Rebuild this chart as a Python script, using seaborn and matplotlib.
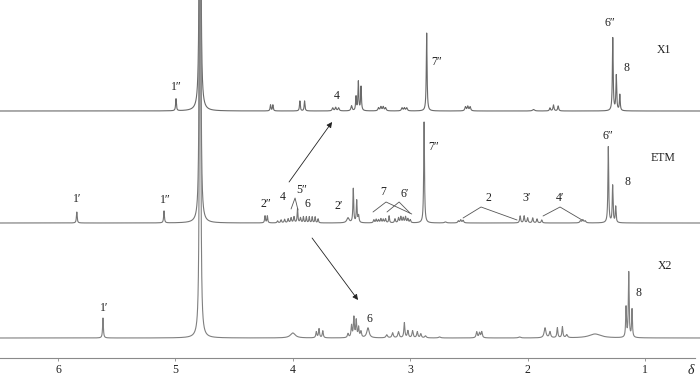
import numpy as np
import pandas as pd
import matplotlib
matplotlib.use("Agg")
import matplotlib.pyplot as plt
import seaborn as sns

# ---------------- data ----------------
# chemical shifts (ppm), peak heights (plot units), half widths (ppm)
x1_ppm = [4.995, 4.79, 4.19, 4.17, 3.94, 3.90, 3.66, 3.635, 3.61, 3.50, 3.462, 3.442, 3.419,
          3.27, 3.25, 3.23, 3.21, 3.07, 3.05, 3.03, 2.86, 2.53, 2.51, 2.49, 1.95,
          1.81, 1.78, 1.74, 1.275, 1.245, 1.215]
x1_height = [12, 1500, 6, 6, 10, 10, 3, 3.5, 3, 5, 14, 29, 24,
             3, 4, 4, 3, 3, 3, 3, 78, 4, 4.5, 4, 1.5,
             3, 6, 5, 73, 35, 16]
x1_width = [0.004, 0.003, 0.004, 0.004, 0.004, 0.004, 0.006, 0.006, 0.006, 0.006, 0.004, 0.004, 0.004,
            0.006, 0.006, 0.006, 0.006, 0.006, 0.006, 0.006, 0.004, 0.006, 0.006, 0.006, 0.01,
            0.005, 0.005, 0.005, 0.004, 0.004, 0.004]

etm_ppm = [5.84, 5.097, 4.79, 4.237, 4.217, 4.13, 4.10, 4.07, 4.04, 4.015, 3.99, 3.96, 3.935,
           3.91, 3.885, 3.86, 3.835, 3.81, 3.785, 3.53, 3.485, 3.456, 3.44,
           3.31, 3.29, 3.27, 3.25, 3.23, 3.21, 3.18, 3.13, 3.10, 3.08, 3.06, 3.04, 3.02, 3.00,
           2.882, 2.70, 2.59, 2.57, 2.55, 2.064, 2.03, 2.00, 1.957, 1.92, 1.88,
           1.55, 1.53, 1.51, 1.313, 1.276, 1.25]
etm_height = [11, 12, 1500, 7, 7, 2, 3, 3.5, 4, 5, 6, 14, 5,
              6, 6, 6, 6, 6, 4, 5, 34, 22, 7,
              3, 3.5, 3, 4, 3.5, 4, 7, 4, 5, 6, 5, 6, 4, 3,
              101, 1, 2, 3, 2.5, 7, 7, 5, 5, 4, 3,
              2, 3, 2, 76, 37, 16]
etm_width = [0.004, 0.004, 0.003, 0.004, 0.004, 0.005, 0.005, 0.005, 0.005, 0.005, 0.005, 0.004, 0.005,
             0.004, 0.004, 0.004, 0.004, 0.004, 0.004, 0.012, 0.004, 0.004, 0.005,
             0.005, 0.005, 0.005, 0.005, 0.005, 0.005, 0.004, 0.005, 0.005, 0.005, 0.005, 0.005, 0.005, 0.005,
             0.004, 0.01, 0.006, 0.006, 0.006, 0.005, 0.005, 0.005, 0.005, 0.005, 0.005,
             0.007, 0.007, 0.007, 0.004, 0.004, 0.004]

x2_ppm = [5.617, 4.79, 4.0, 3.80, 3.777, 3.745, 3.53, 3.50, 3.48, 3.46, 3.44, 3.42, 3.36,
          3.20, 3.15, 3.10, 3.05, 3.02, 2.98, 2.94, 2.91, 2.87, 2.75,
          2.434, 2.41, 2.391, 2.07, 1.852, 1.81, 1.747, 1.704, 1.667, 1.426,
          1.162, 1.139, 1.111]
x2_height = [20, 1500, 5, 6, 9, 7, 4, 12, 20, 17, 10, 6, 10,
             3, 5, 6, 15, 7, 7, 6, 4, 2, 1,
             6, 5, 6, 1, 10, 6, 10, 11, 3, 4,
             30, 65, 28]
x2_width = [0.004, 0.003, 0.025, 0.005, 0.005, 0.005, 0.006, 0.005, 0.005, 0.005, 0.005, 0.006, 0.012,
            0.008, 0.007, 0.007, 0.005, 0.006, 0.006, 0.006, 0.006, 0.008, 0.01,
            0.006, 0.006, 0.006, 0.01, 0.009, 0.007, 0.005, 0.005, 0.008, 0.06,
            0.004, 0.004, 0.004]

spectra = ["X1", "ETM", "X2"]
baselines = {"X1": 247, "ETM": 135, "X2": 20}

# peak labels: (text, ppm, y)
x1_labels = [("1″", 4.995, 271), ("4", 3.623, 262), ("7″", 2.772, 296),
             ("6″", 1.298, 335), ("8", 1.162, 290), ("X1", 0.838, 308)]
etm_labels = [("1′", 5.838, 159), ("1″", 5.089, 158), ("2″", 4.228, 154), ("4", 4.083, 161),
              ("5″", 3.922, 168), ("6", 3.879, 154), ("2′", 3.606, 152), ("7", 3.232, 166),
              ("6′", 3.044, 164), ("7″", 2.797, 211), ("2", 2.337, 160), ("3′", 2.005, 160),
              ("4′", 1.724, 160), ("6″", 1.315, 222), ("8", 1.153, 176), ("ETM", 0.847, 200)]
x2_labels = [("1′", 5.608, 50), ("6", 3.351, 39), ("8", 1.059, 65), ("X2", 0.830, 92)]

# bracket lines: apex, left foot, right foot (ppm, y)
brackets = [((3.981, 160), (4.015, 149), (3.956, 148)),
            ((3.206, 156), (3.317, 146), (2.987, 144)),
            ((3.095, 156), (3.198, 146), (3.002, 145)),
            ((2.397, 151), (2.550, 140), (2.090, 138)),
            ((1.724, 151), (1.869, 142), (1.537, 138))]

# arrows: tail -> head (ppm, y)
arrows = [((4.032, 176), (3.666, 236)),
          ((3.836, 120), (3.445, 58))]

tick_values = [6, 5, 4, 3, 2, 1]

# ---------------- build curves ----------------
grid = np.linspace(6.494, 0.532, 14000)


def spectrum(ppm, height, width):
    y = np.zeros_like(grid)
    for p, h, w in zip(ppm, height, width):
        y += h * w ** 2 / ((grid - p) ** 2 + w ** 2)
    return y


peaks = {"X1": (x1_ppm, x1_height, x1_width),
         "ETM": (etm_ppm, etm_height, etm_width),
         "X2": (x2_ppm, x2_height, x2_width)}

frames = []
for name in spectra:
    y = spectrum(*peaks[name]) + baselines[name]
    frames.append(pd.DataFrame({"ppm": grid, "y": y, "spectrum": name}))
df = pd.concat(frames, ignore_index=True)

# ---------------- draw ----------------
sns.set_style("white")
serif = ["Liberation Serif", "DejaVu Serif"]
plt.rcParams["font.family"] = serif

fig = plt.figure(figsize=(7, 3.75), dpi=100)
ax = fig.add_axes([0, 17 / 375, 1, 358 / 375])

sns.lineplot(data=df, x="ppm", y="y", hue="spectrum", units="spectrum",
             palette={"X1": "#6a6a6a", "ETM": "#767676", "X2": "#808080"},
             estimator=None, sort=False, legend=False, linewidth=0.8, ax=ax)

ax.set_xlim(6.494, 0.532)
ax.set_ylim(0, 358)
ax.set_xlabel("")
ax.set_ylabel("")
ax.set_yticks([])
ax.set_xticks(tick_values)
ax.set_xticklabels([str(t) for t in tick_values])
for s in ["top", "left", "right"]:
    ax.spines[s].set_visible(False)
ax.spines["bottom"].set_color("#8a8a8a")
ax.spines["bottom"].set_linewidth(0.8)
ax.spines["bottom"].set_bounds(6.494, 0.575)
ax.tick_params(axis="x", direction="out", length=2.5, width=0.6, color="#8a8a8a",
               pad=1.5, labelsize=8.5, labelcolor="#222222", bottom=True)
ax.patch.set_alpha(0)

ax.text(0.608, -12, "δ", fontsize=10, style="italic", ha="center", va="center",
        color="#222222", clip_on=False)

for txt, px, py in x1_labels + etm_labels + x2_labels:
    ax.text(px, py, txt, fontsize=8.5, ha="center", va="center", color="#222222")

for apex, left, right in brackets:
    ax.plot([left[0], apex[0], right[0]], [left[1], apex[1], right[1]],
            color="#555555", lw=0.6)

for tail, head in arrows:
    ax.annotate("", xy=head, xytext=tail,
                arrowprops=dict(arrowstyle="-|>", color="#222222", lw=0.6,
                                mutation_scale=8, shrinkA=0, shrinkB=0))

fig.savefig("out.png", dpi=100)
